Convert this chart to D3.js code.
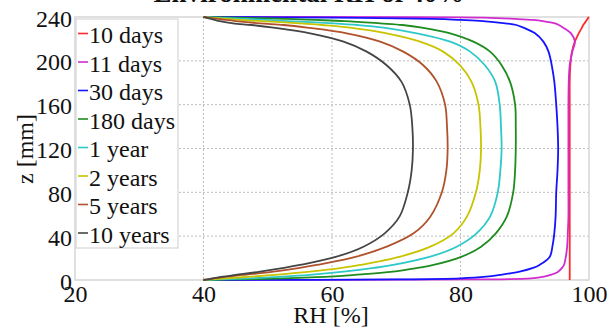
<!DOCTYPE html>
<html>
<head>
<meta charset="utf-8">
<script src="https://cdn.jsdelivr.net/npm/d3@7"></script>
<style>
	body { margin: 0; background: #fff; }
	svg text { font-family: "Liberation Serif", "Times New Roman", serif; fill: #111; }
	.grid line { stroke: #bdbdbd; stroke-dasharray: 2,2; }
</style>
</head>
<body>
<svg id="chart" width="616" height="331"></svg>
<script>
//depth levels (mm) shared by every profile
var zLevels = [0, 0.5, 1.5, 3, 4.6, 7.6, 11, 13.7, 21.3, 30.4, 42.6, 57.8, 80, 100, 120,
	140, 160, 181, 196, 208.4, 217.5, 225.1, 230.3, 232.7, 234.2, 236.3, 237.3, 238.2, 239.4, 240];

//RH [%] at each depth level
var rh10days  = [97, 97, 97, 97, 97, 97, 97, 97, 97, 97, 97, 97, 97, 97, 97,
	97, 97, 97, 97.1, 97.35, 97.8, 98.4, 98.9, 99.1, 99.3, 99.55, 99.65, 99.75, 99.9, 100];
var rh11days  = [40, 82, 91, 93, 94, 95.2, 95.8, 96.1, 96.4, 96.6, 96.7, 96.8, 96.8, 96.8, 96.8,
	96.8, 96.8, 96.85, 97.0, 97.4, 97.8, 97.2, 96.0, 95.3, 94.7, 92.8, 91.3, 88.7, 83.5, 40];
var rh30days  = [40, 70, 80, 84, 86.1, 89.2, 91.3, 92.3, 93.9, 94.3, 94.6, 94.8, 94.9, 95.1, 95.2,
	95.1, 94.9, 94.6, 94.2, 93.7, 92.9, 91.6, 89.8, 88.7, 87, 83.5, 80, 75.7, 60, 40];
var rh180days = [40, 45, 52.4, 59.5, 63.5, 69.5, 73.3, 75.8, 80.2, 83.2, 85.5, 87.2, 88.2, 88.5, 88.6,
	88.6, 88.5, 87.7, 86.4, 84.6, 82.0, 78.4, 74, 71, 67.5, 62, 57.5, 53, 45, 40];
var rh1year   = [40, 42.5, 47, 52.4, 56.5, 61.8, 66.5, 69.5, 75.3, 79.4, 82.5, 84.6, 85.8, 86.2, 86.4,
	86.3, 86.1, 85.4, 83.8, 81.5, 78.4, 73.2, 68, 64, 60.2, 53, 49.8, 46.5, 42, 40];
var rh2years  = [40, 41.2, 43.5, 47.2, 51, 56.6, 61.5, 64.4, 70.6, 75.3, 78.9, 81.0, 82.4, 83.0, 83.2,
	83.1, 82.8, 81.7, 79.9, 77.3, 73.7, 68.5, 62.8, 58.5, 55, 49, 45.7, 43.8, 41, 40];
var rh5years  = [40, 40.5, 41.5, 43.6, 46, 50.9, 55, 57.6, 63.8, 68.5, 72.7, 75.3, 77.1, 77.8, 78.0,
	77.9, 77.6, 76.3, 74.2, 71.1, 67.5, 62.3, 56.1, 52.5, 48.8, 45, 43.5, 42.3, 40.7, 40];
var rh10years = [40, 40.8, 41.5, 43, 45, 48.8, 52.5, 55, 60.7, 64.9, 68.2, 70.5, 71.8, 72.4, 72.6,
	72.5, 72.1, 70.8, 68.5, 65.4, 61.8, 56.6, 50.9, 47.5, 44.6, 42.5, 41.8, 41.2, 40.4, 40];

var seriesNames = ["10 days", "11 days", "30 days", "180 days", "1 year", "2 years", "5 years", "10 years"];
var seriesValues = [rh10days, rh11days, rh30days, rh180days, rh1year, rh2years, rh5years, rh10years];
var seriesColors = ["#ff2a2a", "#d02cd0", "#1414ff", "#1f8c1f", "#2ec8c8", "#c8c400", "#b0532c", "#454545"];

var xTicks = [20, 40, 60, 80, 100];
var yTicks = [0, 40, 80, 120, 160, 200, 240];

var svg = d3.select("#chart");
var plotLeft = 75, plotRight = 589, plotTop = 17, plotBottom = 280;

var x = d3.scaleLinear().domain([20, 100]).range([plotLeft, plotRight]);
var y = d3.scaleLinear().domain([0, 240]).range([plotBottom, plotTop]);

//title, mostly cut off by the top edge
svg.append("text")
	.attr("x", 309)
	.attr("y", 2)
	.attr("text-anchor", "middle")
	.style("font-size", "27px")
	.style("font-weight", "bold")
	.text("Environmental RH of 40%");

//grid
var grid = svg.append("g").attr("class", "grid");
grid.selectAll(".vg").data(xTicks.slice(1, -1)).enter().append("line")
	.attr("x1", function(d){ return x(d); }).attr("x2", function(d){ return x(d); })
	.attr("y1", plotTop).attr("y2", plotBottom);
grid.selectAll(".hg").data(yTicks.slice(1, -1)).enter().append("line")
	.attr("y1", function(d){ return y(d); }).attr("y2", function(d){ return y(d); })
	.attr("x1", plotLeft).attr("x2", plotRight);

//frame
svg.append("rect")
	.attr("x", plotLeft).attr("y", plotTop)
	.attr("width", plotRight - plotLeft).attr("height", plotBottom - plotTop)
	.style("fill", "none").style("stroke", "#d6d6d6").style("stroke-width", 1.5);

//profiles
svg.append("clipPath").attr("id", "plotClip").append("rect")
	.attr("x", plotLeft - 1).attr("y", plotTop - 1)
	.attr("width", plotRight - plotLeft + 2).attr("height", plotBottom - plotTop + 2);

var line = d3.line()
	.x(function(d){ return x(d[0]); })
	.y(function(d){ return y(d[1]); })
	.curve(d3.curveCatmullRom.alpha(0.5));

var curves = svg.append("g").attr("clip-path", "url(#plotClip)");
seriesValues.forEach(function(vals, i){
	var pts = vals.map(function(v, j){ return [v, zLevels[j]]; });
	curves.append("path")
		.attr("d", line(pts))
		.style("fill", "none")
		.style("stroke", seriesColors[i])
		.style("stroke-width", 1.8);
});

//axes
var xAxis = svg.append("g")
	.attr("transform", "translate(0," + plotBottom + ")")
	.call(d3.axisBottom(x).tickValues(xTicks).tickSize(0).tickPadding(5).tickFormat(d3.format("d")));
var yAxis = svg.append("g")
	.attr("transform", "translate(" + plotLeft + ",0)")
	.call(d3.axisLeft(y).tickValues(yTicks).tickSize(0).tickPadding(3).tickFormat(d3.format("d")));
[xAxis, yAxis].forEach(function(a){
	a.select(".domain").remove();
	a.selectAll("text").style("font-size", "24px").style("font-family", "Liberation Serif, serif").style("fill", "#111");
});
yAxis.selectAll("text").attr("dy", "0.38em");

svg.append("text")
	.attr("x", 331).attr("y", 323)
	.attr("text-anchor", "middle")
	.style("font-size", "24px")
	.text("RH [%]");

svg.append("text")
	.attr("transform", "translate(33,149) rotate(-90)")
	.attr("text-anchor", "middle")
	.style("font-size", "24px")
	.text("z [mm]");

//legend
var legend = svg.append("g");
legend.append("rect")
	.attr("x", 76).attr("y", 19).attr("width", 102).attr("height", 229)
	.style("fill", "#fff").style("stroke", "#d6d6d6").style("stroke-width", 1.2);
seriesNames.forEach(function(name, i){
	var base = 43 + i * 28.5;
	legend.append("line")
		.attr("x1", 78).attr("x2", 88)
		.attr("y1", base - 9.5).attr("y2", base - 9.5)
		.style("stroke", seriesColors[i]).style("stroke-width", 1.6);
	legend.append("text")
		.attr("x", 89).attr("y", base)
		.style("font-size", "24px")
		.text(name);
});
</script>
</body>
</html>
